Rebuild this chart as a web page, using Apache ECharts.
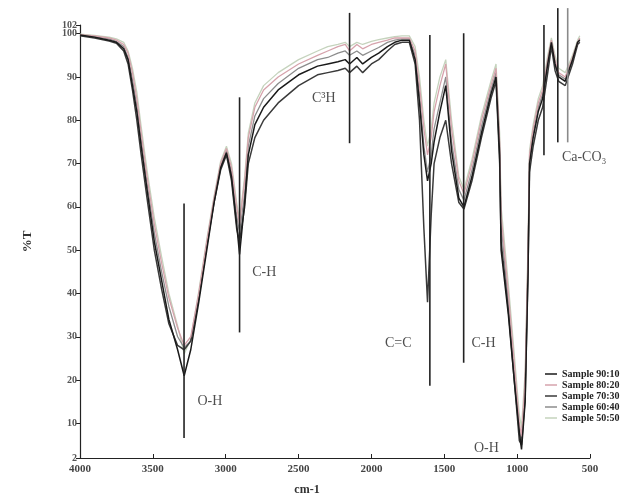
<!DOCTYPE html>
<html><head><meta charset="utf-8">
<script src="https://cdn.jsdelivr.net/npm/echarts@6/dist/echarts.min.js"></script>
<style>html,body{margin:0;padding:0;background:#fff}#c{width:643px;height:501px}</style>
</head><body><div id="c"></div>
<script>
// Wavenumbers (cm-1)
var wavenumbers = [4000,3900,3800,3750,3700,3670,3640,3610,3580,3540,3490,3440,3390,3330,3285,3240,3185,3130,3080,3035,2995,2960,2925,2905,2870,2845,2800,2740,2640,2500,2370,2300,2230,2180,2150,2100,2060,2000,1950,1890,1840,1790,1740,1700,1670,1640,1615,1590,1570,1530,1490,1450,1400,1365,1310,1245,1180,1145,1120,1110,1060,1020,985,970,945,925,915,890,855,825,790,765,740,715,670,620,585,570];
var sampleNames = ['Sample 90:10','Sample 80:20','Sample 70:30','Sample 60:40','Sample 50:50'];
var s90_10 = [99.7,99.2,98.5,98,96.5,94,88,82,74,64, 52,43,34,27,21,27,38,50,61,69, 72.5,67,56,49,61,72,79,83,87,90.5, 92.5,93,93.5,94,93,94.5,93,94.5,95.5,97, 98,98.5,98.5,94,84,72,66,70,75,82, 88,73,62,60,67,77,86,90,72,50, 35,20,8,4,15,45,70,76,82,85, 93,98,93,90,89,94,98,98.5];
var s80_20 = [99.8,99.5,99,98.5,97.5,95.5,91,85,77,67, 56,47,39,32,28,30,40,52,62,70, 73.5,69,60,56,66,76,83,87,90,93, 95,96,97,97.5,96,97.5,96.5,97.5,98,98.5, 99,99,99,96,88,78,72,76,82,88, 93,78,66,63,70,80,88,92,75,58, 40,24,10,7,20,50,72,78,84,87, 94,98.5,94,91,90,94.5,98,99];
var s70_30 = [99.5,99,98.3,97.8,96,93,87,80,72,62, 50,41,33,28,27,29,39,51,61,68.5, 72,66,55,52,60,70,76,80,84,88, 90.5,91,91.5,92,91,92.5,91,93,94,96, 97.5,98,98,93,80,55,38,58,70,76, 80,70,61,59.5,66,76,85,89,70,52, 36,20,6,5,16,46,68,74,80,83, 91,97,91.5,89,88,93,97.5,98];
var s60_40 = [99.6,99.3,98.8,98.2,97,94.5,89.5,83.5,75.5,65.5, 54,45,37,30,27.5,29,39,51,61.5,69.5, 73,68,58,54,63,74,81,85,88.5,92, 94,94.5,95.5,96,95,96,95,96,96.8,98, 98.5,98.8,98.8,95,86,74,68,72,78,84, 90,75,64,61.5,68.5,78.5,87,91,74,56, 38,22,8,6,18,48,71,77,83,86, 93.5,98,93,90.5,89.5,94,98,98.8];
var s50_50 = [99.9,99.6,99.2,98.8,98,96,92,86.5,78.5,68.5, 57.5,48.5,40,32.5,26,29.5,40.5,52.5,62.5,70.5, 74,70,61,57,67,77,84,88,91,94, 96,97,97.5,98,97,98,97.5,98.2,98.6,99, 99.3,99.5,99.5,97,90,80,74,78,84,90, 94,80,67,64,71,81,89,93,77,60, 42,26,12,9,22,52,73,79,85,88, 95,99,95,92,91,95,98.5,99.5];
var yTickValues = [2,10,20,30,40,50,60,70,80,90,100];
var yTopTick = [102];
// annotation lines: [wavenumber, yTop, yBottom]
var annotLines = [[3286,60.8,6.6],[2905,85.3,31],[2150,104.8,74.7],[1599,99.7,18.7],[1367,100.1,24],[816,102,71.9],[721,105.9,74.9],[653,105.9,74.9]];
// annotation labels: [wavenumber, y, text]
var annotLabels = [[3109,15.2,'O-H'],[2735,44.8,'C-H'],[2327,85.1,'C³H'],[1816,28.4,'C=C'],[1231,28.4,'C-H'],[1211,4.3,'O-H'],[540,71.4,'Ca-CO₃']];

var colors = ['#1a1a1a','#d6a3ac','#3a3a3a','#8c8c8c','#c5d3bd'];
var datasets = [s90_10,s80_20,s70_30,s60_40,s50_50];
var chart = echarts.init(document.getElementById('c'));
var series = datasets.map(function(d,i){
  return {name:sampleNames[i], type:'line', showSymbol:false, symbol:'none',
    data: wavenumbers.map(function(w,k){return [w,d[k]];}),
    lineStyle:{color:colors[i], width:(i===0||i===2)?1.5:1.3}, itemStyle:{color:colors[i]}, z: 5-i};
});
series.push({name:'annotLines', type:'custom', clip:false, silent:true, z:8,
  data: annotLines,
  encode:{x:0, y:[1,2]},
  renderItem:function(params, api){
    var p1 = api.coord([api.value(0), api.value(1)]);
    var p2 = api.coord([api.value(0), api.value(2)]);
    return {type:'line', shape:{x1:p1[0], y1:p1[1], x2:p2[0], y2:p2[1]},
      style:{stroke: params.dataIndex===7 ? '#8a8a8a' : '#222', lineWidth:1.6}};
  }
});
series.push({name:'labels', type:'scatter', symbolSize:0, silent:true, z:10,
  data: annotLabels.map(function(a){return {value:[a[0],a[1]], label:{formatter:a[2]}};}),
  label:{show:true, position:'inside', color:'#222', fontFamily:'Liberation Serif', fontSize:14}
});
var yLabelStyle = {fontFamily:'Liberation Serif', fontSize:10, fontWeight:'bold', color:'#555', margin:3,
  formatter:function(v){return String(v);}};
chart.setOption({
  animation:false,
  backgroundColor:'#fff',
  grid:{left:80, right:53, top:25, bottom:42},
  legend:{data:sampleNames, orient:'vertical', left:540, top:364, itemWidth:12, itemHeight:8, itemGap:1,
    icon:'path://M0,4 L12,4 L12,5.5 L0,5.5 Z',
    textStyle:{fontFamily:'Liberation Serif', fontSize:10, fontWeight:'bold', color:'#222'}},
  xAxis:{type:'value', inverse:true, min:500, max:4000, interval:500,
    name:'cm-1', nameLocation:'middle', nameGap:26,
    nameTextStyle:{fontFamily:'Liberation Serif', fontSize:12, fontWeight:'bold', color:'#333', padding:[0,56,0,0]},
    axisLine:{lineStyle:{color:'#222', width:1.2}},
    axisTick:{inside:true, length:4, lineStyle:{color:'#222'}},
    axisLabel:{fontFamily:'Liberation Serif', fontSize:11, fontWeight:'bold', color:'#444', margin:6,
      formatter:function(v){return String(v);}},
    splitLine:{show:false}},
  yAxis:[{type:'value', min:2, max:102,
    name:'%T', nameLocation:'middle', nameGap:46,
    nameTextStyle:{fontFamily:'Liberation Serif', fontSize:13, fontWeight:'bold', color:'#333'},
    axisLine:{show:true, lineStyle:{color:'#222', width:1.2}},
    axisTick:{show:true, length:4, customValues:yTickValues, lineStyle:{color:'#222'}},
    axisLabel:Object.assign({customValues:yTickValues}, yLabelStyle),
    splitLine:{show:false}},
   {type:'value', min:2, max:102, position:'left', offset:0,
    axisLine:{show:false},
    axisTick:{show:true, length:4, customValues:yTopTick, lineStyle:{color:'#222'}},
    axisLabel:Object.assign({customValues:yTopTick}, yLabelStyle),
    splitLine:{show:false}}],
  series:series
});
</script></body></html>
